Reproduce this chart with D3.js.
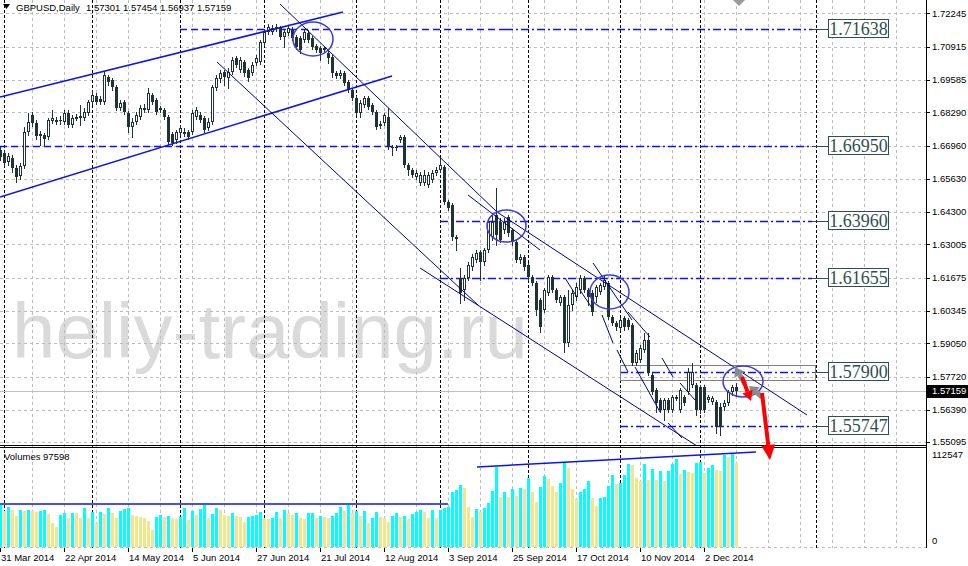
<!DOCTYPE html>
<html><head><meta charset="utf-8">
<script src="https://cdnjs.cloudflare.com/ajax/libs/d3/7.8.5/d3.min.js"></script>
<style>
body{margin:0;background:#fff;overflow:hidden}
text{font-family:"Liberation Sans",Arial,sans-serif}
</style></head>
<body><svg id="c" width="968" height="566"></svg>
<script>
// ---------------- DATA ----------------
const symbolTitle = "GBPUSD,Daily";
const titleValues = "1.57301 1.57454 1.56937 1.57159";
const opens = [1.6678,1.6666,1.6630,1.6646,1.6606,1.6574,1.6614,1.6750,1.6818,1.6786,
1.6734,1.6738,1.6730,1.6794,1.6794,1.6798,1.6790,1.6826,1.6778,1.6802,
1.6806,1.6806,1.6826,1.6870,1.6894,1.6882,1.6870,1.6970,1.6958,1.6930,
1.6846,1.6870,1.6826,1.6770,1.6790,1.6810,1.6838,1.6838,1.6898,1.6878,
1.6838,1.6838,1.6810,1.6742,1.6718,1.6746,1.6742,1.6750,1.6750,1.6810,
1.6818,1.6806,1.6766,1.6790,1.6926,1.6962,1.6990,1.6966,1.6990,1.7046,
1.6998,1.7030,1.6998,1.6986,1.7026,1.7030,1.7106,1.7150,1.7150,1.7162,
1.7166,1.7130,1.7146,1.7158,1.7130,1.7126,1.7118,1.7146,1.7126,1.7094,
1.7086,1.7078,1.7066,1.7050,1.6986,1.6974,1.6986,1.6950,1.6918,1.6886,
1.6826,1.6858,1.6886,1.6858,1.6830,1.6782,1.6786,1.6810,1.6690,1.6690,
1.6718,1.6730,1.6618,1.6598,1.6570,1.6546,1.6546,1.6538,1.6558,1.6586,
1.6598,1.6610,1.6470,1.6458,1.6326,1.6166,1.6118,1.6166,1.6210,1.6238,
1.6270,1.6230,1.6278,1.6330,1.6418,1.6390,1.6358,1.6410,1.6358,1.6310,
1.6238,1.6250,1.6218,1.6170,1.6146,1.6078,1.6038,1.6106,1.6170,1.6118,
1.6066,1.6090,1.5906,1.6058,1.6090,1.6118,1.6166,1.6118,1.6106,1.6090,
1.6110,1.6130,1.6146,1.6010,1.5986,1.5966,1.6006,1.5998,1.5978,1.5826,
1.5838,1.5878,1.5918,1.5778,1.5718,1.5678,1.5638,1.5678,1.5638,1.5686,
1.5638,1.5690,1.5710,1.5738,1.5738,1.5730,1.5730,1.5678,1.5670,1.5670,
1.5650,1.5650,1.5666,1.5710,1.57301];
const highs = [1.6690,1.6678,1.6666,1.6658,1.6618,1.6626,1.6770,1.6826,1.6830,1.6798,
1.6754,1.6746,1.6806,1.6838,1.6810,1.6814,1.6838,1.6838,1.6818,1.6822,
1.6858,1.6846,1.6878,1.6918,1.6906,1.6894,1.6994,1.6978,1.6966,1.6938,
1.6878,1.6878,1.6834,1.6806,1.6830,1.6858,1.6862,1.6926,1.6906,1.6886,
1.6854,1.6846,1.6818,1.6750,1.6758,1.6778,1.6766,1.6758,1.6838,1.6850,
1.6830,1.6814,1.6806,1.6938,1.6978,1.6998,1.6998,1.7006,1.7050,1.7054,
1.7050,1.7038,1.7006,1.7030,1.7058,1.7118,1.7162,1.7182,1.7178,1.7182,
1.7174,1.7158,1.7178,1.7170,1.7138,1.7134,1.7162,1.7158,1.7134,1.7102,
1.7094,1.7094,1.7078,1.7058,1.6994,1.6998,1.6994,1.6958,1.6926,1.6894,
1.6878,1.6894,1.6894,1.6866,1.6838,1.6794,1.6826,1.6846,1.6698,1.6698,
1.6738,1.6738,1.6626,1.6606,1.6598,1.6590,1.6598,1.6590,1.6598,1.6610,
1.6650,1.6618,1.6478,1.6466,1.6338,1.6206,1.6178,1.6230,1.6262,1.6278,
1.6278,1.6286,1.6398,1.6418,1.6526,1.6406,1.6406,1.6418,1.6366,1.6318,
1.6262,1.6258,1.6226,1.6178,1.6154,1.6086,1.6126,1.6178,1.6178,1.6126,
1.6098,1.6098,1.6118,1.6118,1.6146,1.6178,1.6174,1.6126,1.6118,1.6138,
1.6146,1.6174,1.6154,1.6018,1.5994,1.6006,1.6014,1.6006,1.5986,1.5878,
1.5898,1.5946,1.5946,1.5786,1.5726,1.5686,1.5686,1.5686,1.5698,1.5698,
1.5726,1.5698,1.5806,1.5826,1.5746,1.5738,1.5738,1.5698,1.5694,1.5678,
1.5666,1.5678,1.5718,1.5738,1.57454];
const lows = [1.6638,1.6614,1.6618,1.6590,1.6550,1.6562,1.6606,1.6738,1.6774,1.6722,
1.6698,1.6698,1.6722,1.6786,1.6782,1.6782,1.6782,1.6770,1.6770,1.6798,
1.6778,1.6798,1.6818,1.6862,1.6862,1.6862,1.6862,1.6938,1.6918,1.6838,
1.6838,1.6822,1.6750,1.6730,1.6782,1.6802,1.6830,1.6830,1.6862,1.6822,
1.6830,1.6802,1.6702,1.6698,1.6706,1.6738,1.6734,1.6722,1.6742,1.6802,
1.6790,1.6750,1.6758,1.6782,1.6918,1.6950,1.6938,1.6926,1.6982,1.7010,
1.6990,1.6974,1.6954,1.6978,1.7018,1.7022,1.7098,1.7142,1.7142,1.7154,
1.7122,1.7090,1.7138,1.7118,1.7082,1.7066,1.7110,1.7110,1.7082,1.7070,
1.7038,1.7070,1.7026,1.6970,1.6966,1.6966,1.6938,1.6910,1.6878,1.6818,
1.6810,1.6850,1.6842,1.6822,1.6762,1.6766,1.6778,1.6682,1.6658,1.6678,
1.6710,1.6610,1.6578,1.6570,1.6562,1.6538,1.6538,1.6530,1.6550,1.6578,
1.6590,1.6462,1.6438,1.6318,1.6278,1.6066,1.6078,1.6158,1.6198,1.6230,
1.6158,1.6218,1.6270,1.6318,1.6298,1.6310,1.6346,1.6334,1.6298,1.6230,
1.6226,1.6198,1.6158,1.6138,1.6018,1.5950,1.6030,1.6098,1.6110,1.6070,
1.6058,1.5870,1.5894,1.6038,1.6078,1.6106,1.6110,1.6058,1.6018,1.6070,
1.6102,1.6122,1.6002,1.5978,1.5958,1.5958,1.5958,1.5962,1.5818,1.5818,
1.5830,1.5870,1.5778,1.5702,1.5630,1.5630,1.5598,1.5630,1.5630,1.5678,
1.5630,1.5658,1.5702,1.5730,1.5618,1.5626,1.5630,1.5670,1.5662,1.5546,
1.5538,1.5638,1.5658,1.5698,1.56937];
const closes = [1.6650,1.6626,1.6654,1.6606,1.6570,1.6614,1.6750,1.6790,1.6786,1.6734,
1.6742,1.6722,1.6798,1.6806,1.6798,1.6794,1.6826,1.6778,1.6806,1.6810,
1.6814,1.6830,1.6870,1.6898,1.6870,1.6870,1.6978,1.6950,1.6930,1.6846,
1.6866,1.6830,1.6770,1.6790,1.6818,1.6846,1.6846,1.6906,1.6870,1.6830,
1.6846,1.6810,1.6710,1.6706,1.6750,1.6766,1.6750,1.6730,1.6826,1.6838,
1.6798,1.6758,1.6790,1.6930,1.6966,1.6986,1.6970,1.6990,1.7038,1.7018,
1.7038,1.6986,1.6966,1.7018,1.7046,1.7110,1.7150,1.7170,1.7166,1.7170,
1.7130,1.7150,1.7166,1.7126,1.7090,1.7078,1.7150,1.7118,1.7090,1.7078,
1.7066,1.7086,1.7046,1.6986,1.6974,1.6986,1.6946,1.6918,1.6886,1.6826,
1.6866,1.6886,1.6850,1.6830,1.6770,1.6774,1.6818,1.6690,1.6686,1.6686,
1.6730,1.6618,1.6598,1.6578,1.6586,1.6578,1.6578,1.6578,1.6586,1.6598,
1.6618,1.6470,1.6446,1.6330,1.6330,1.6106,1.6166,1.6218,1.6250,1.6266,
1.6230,1.6278,1.6390,1.6390,1.6338,1.6318,1.6390,1.6346,1.6310,1.6238,
1.6250,1.6210,1.6170,1.6146,1.6038,1.5970,1.6118,1.6170,1.6118,1.6078,
1.6090,1.5906,1.6058,1.6106,1.6130,1.6166,1.6118,1.6090,1.6030,1.6130,
1.6138,1.6158,1.6010,1.5986,1.5970,1.5998,1.5970,1.5970,1.5826,1.5866,
1.5886,1.5918,1.5786,1.5710,1.5666,1.5638,1.5678,1.5638,1.5690,1.5690,
1.5718,1.5666,1.5790,1.5790,1.5638,1.5638,1.5638,1.5690,1.5686,1.5570,
1.5570,1.5666,1.5710,1.5730,1.57159];
const volumes = [48720,42150,46790,42920,35960,42920,42150,42920,41760,40990,
42150,42920,38280,27450,22810,37120,39830,34030,39830,39050,
34030,45240,33250,40990,28230,40990,38280,45240,39830,34030,
41760,44080,45240,37120,35960,35190,33250,30550,19720,34410,
37120,35190,35960,33250,32090,35190,45240,31320,41760,37120,
44080,48720,33250,38280,45240,42920,37120,35960,39050,35960,
35190,29390,35190,35960,37120,40990,33250,32480,33250,40990,
34030,42920,39050,37120,39830,33250,32480,39050,39830,34030,
35960,35190,33250,35960,39830,46790,41760,48720,39830,42150,
35960,42150,28230,33250,40990,35190,34030,29390,35960,39830,
34410,35960,32090,38280,40990,42920,40990,33250,42920,33250,
42920,44850,46790,64190,66120,71920,68050,46790,35190,44080,
40990,45240,51040,64960,92800,58000,63800,58000,67280,59160,
68440,67280,80040,63800,52200,69600,82360,78880,70760,63800,
74240,97440,91640,67280,55680,63800,67280,76560,56840,47560,
56840,58000,70760,83520,73080,74240,83520,96280,95120,80040,
76560,96280,77720,90480,77720,88160,76560,88160,96280,102080,
84680,89320,87000,85840,97440,98600,85840,91640,95120,89320,
88160,106720,104400,107880,97598];
const volumeMax = 112547;
const priceTicks = [1.72245,1.70915,1.69585,1.68290,1.66960,1.65630,1.64300,1.63005,1.61675,1.60345,1.59050,1.57720,1.56390,1.55095];
const timeLabels = ["31 Mar 2014","22 Apr 2014","14 May 2014","5 Jun 2014","27 Jun 2014","21 Jul 2014","12 Aug 2014","3 Sep 2014","25 Sep 2014","17 Oct 2014","10 Nov 2014","2 Dec 2014"];
const timeLabelIdx = [0,16,32,48,64,80,96,112,128,144,160,176];
const periodSepIdx = [1,23,45,66,89,110,132,155,175,204];
const levelValues = [1.71638,1.66950,1.63960,1.61655,1.57900,1.55747];
const levelStartIdx = [126.25,155,110,110,155,155];
const levelDashedFromIdx = [45,0,null,null,null,null];
const levelEndIdx = 203;
const zoneRect = {i1:155, i2:203.75, p1:1.5818, p2:1.5758};
const channelLines = [[[0,1.6890],[85.75,1.7230]],[[0,1.6490],[98,1.6974]]];
const thinLines = [
 [[70,1.7262],[124.25,1.6430]],
 [[124.25,1.6430],[201.75,1.5618]],
 [[54.25,1.7030],[119.5,1.6058]],
 [[105,1.6206],[174.25,1.5494]],
 [[117,1.6498],[135,1.6278]],
 [[141.25,1.6166],[144.25,1.6090]],
 [[145,1.6118],[148,1.6046]],
 [[148.25,1.6226],[158,1.5998]],
 [[150.5,1.6018],[153.25,1.5906]],
 [[154.25,1.5878],[157,1.5790]],
 [[157,1.6030],[162.5,1.5930]],
 [[158.75,1.5810],[165,1.5630]],
 [[165.5,1.5846],[168.25,1.5770]],
 [[170,1.5746],[173.75,1.5678]],
 [[167,1.5586],[170.5,1.5526]]
];
const ellipses = [[73.25,1.7190,83.25,1.7054],[121.75,1.6438,131.5,1.6310],[147.5,1.6178,157.25,1.6042],[180.75,1.5814,190.75,1.5690]];
const arrowsGray = [[[186.25,1.5742],[183.75,1.5810]],[[190.5,1.5690],[187.25,1.5734]]];
const arrowsRed = [[[185.5,1.5770],[187.75,1.5674]],[[190.5,1.5706],[192.5,1.5438]]];
const volLines = [[[0,49880],[112,49880]],[[119.25,92800],[189,110200]]];

// ---------------- DRAW ----------------
const svg = d3.select("#c");
const x = d3.scaleLinear().domain([0,231.5]).range([0,926]);
const y = d3.scaleLinear().domain([1.7278,1.5498]).range([0,445]);
const yv = d3.scaleLinear().domain([0,volumeMax]).range([547,450]);
const px = v => Math.round(x(v))+0.5;
const py = v => Math.round(y(v))+0.5;
const N = closes.length;

svg.append("rect").attr("width",968).attr("height",566).attr("fill","#fff");
const defs = svg.append("defs");
defs.append("clipPath").attr("id","pclip").append("rect").attr("x",0).attr("y",0).attr("width",926).attr("height",445);
defs.append("clipPath").attr("id","vclip").append("rect").attr("x",0).attr("y",449).attr("width",926).attr("height",99);

// watermark
svg.append("text").attr("x",12).attr("y",358).text("heliy-trading.ru")
  .style("font-size","78px").attr("fill","#dadada");

// grid
const grid = svg.append("g").attr("stroke","#bcbcbc").attr("stroke-dasharray","3,3");
grid.selectAll("line.h").data(priceTicks).join("line").attr("class","h")
  .attr("x1",0).attr("x2",926).attr("y1",d=>py(d)).attr("y2",d=>py(d));
grid.append("line").attr("x1",0).attr("x2",926).attr("y1",Math.round(yv(0))+0.5).attr("y2",Math.round(yv(0))+0.5);
grid.selectAll("line.v").data(d3.range(8,232,8)).join("line").attr("class","v")
  .attr("x1",d=>px(d)).attr("x2",d=>px(d)).attr("y1",0).attr("y2",548);

// period separators
svg.append("g").attr("stroke","#000").attr("stroke-dasharray","3,2")
  .selectAll("line").data(periodSepIdx).join("line")
  .attr("x1",d=>px(d)).attr("x2",d=>px(d)).attr("y1",0).attr("y2",548);

// bid line
svg.append("line").attr("x1",0).attr("x2",926).attr("y1",py(closes[N-1])).attr("y2",py(closes[N-1]))
  .attr("stroke","#c0c0c0");

// levels
const lv = svg.append("g");
levelValues.forEach((v,k)=>{
  const yy = py(v);
  if(levelDashedFromIdx[k]!==null){
    lv.append("line").attr("x1",x(levelDashedFromIdx[k])).attr("x2",x(levelStartIdx[k])).attr("y1",yy).attr("y2",yy)
      .attr("stroke","#1010ff").attr("stroke-width",1.5).attr("stroke-dasharray","7,4");
  }
  lv.append("line").attr("x1",x(levelStartIdx[k])).attr("x2",x(levelEndIdx)).attr("y1",yy).attr("y2",yy)
    .attr("stroke","#1010ff").attr("stroke-width",1.5).attr("stroke-dasharray","8,3,2,3");
  lv.append("line").attr("x1",x(levelEndIdx)).attr("x2",828).attr("y1",yy).attr("y2",yy).attr("stroke","#2f4f4f");
  lv.append("rect").attr("x",828.5).attr("y",Math.round(y(v))-9.5).attr("width",60).attr("height",18)
    .attr("fill","#fff").attr("stroke","#2f4f4f");
  lv.append("text").attr("x",858.5).attr("y",Math.round(y(v))+6).attr("text-anchor","middle")
    .style("font-family","'Liberation Serif','Times New Roman',serif").style("font-size","18px")
    .attr("fill","#2f4f4f").text(v.toFixed(5));
});
lv.append("rect").attr("x",Math.round(x(zoneRect.i1))+0.5).attr("y",py(zoneRect.p1))
  .attr("width",Math.round(x(zoneRect.i2)-x(zoneRect.i1))).attr("height",Math.round(y(zoneRect.p2)-y(zoneRect.p1)))
  .attr("fill","none").attr("stroke","#808080");

// candles
const cc = "#1f3333";
const cg = svg.append("g").attr("clip-path","url(#pclip)");
const bars = closes.map((c,i)=>({i,o:opens[i],h:highs[i],l:lows[i],c}));
cg.selectAll("line.w").data(bars).join("line").attr("class","w")
  .attr("x1",d=>px(d.i)).attr("x2",d=>px(d.i))
  .attr("y1",d=>Math.round(y(d.h))).attr("y2",d=>Math.round(y(d.l))+1).attr("stroke",cc);
bars.forEach(d=>{
  const top = Math.round(y(Math.max(d.o,d.c))), bot = Math.max(Math.round(y(Math.min(d.o,d.c))), top+1);
  const xl = Math.round(x(d.i))-1;
  if(d.c>d.o){
    cg.append("rect").attr("x",xl+0.5).attr("y",top+0.5).attr("width",2).attr("height",Math.max(bot-top-1,1))
      .attr("fill","#fff").attr("stroke",cc);
  } else {
    cg.append("rect").attr("x",xl).attr("y",top).attr("width",3).attr("height",Math.max(bot-top,1)).attr("fill",cc);
  }
});

// trend lines
const tl = svg.append("g").attr("clip-path","url(#pclip)").attr("fill","none");
tl.selectAll("line.ch").data(channelLines).join("line").attr("class","ch")
  .attr("x1",d=>x(d[0][0])).attr("y1",d=>y(d[0][1])).attr("x2",d=>x(d[1][0])).attr("y2",d=>y(d[1][1]))
  .attr("stroke","#0a14f0").attr("stroke-width",1.6);
tl.selectAll("line.th").data(thinLines).join("line").attr("class","th")
  .attr("x1",d=>x(d[0][0])).attr("y1",d=>y(d[0][1])).attr("x2",d=>x(d[1][0])).attr("y2",d=>y(d[1][1]))
  .attr("stroke","#00008c").attr("stroke-width",1);
tl.selectAll("ellipse").data(ellipses).join("ellipse")
  .attr("cx",d=>(x(d[0])+x(d[2]))/2).attr("cy",d=>(y(d[1])+y(d[3]))/2)
  .attr("rx",d=>(x(d[2])-x(d[0]))/2).attr("ry",d=>(y(d[3])-y(d[1]))/2)
  .attr("stroke","#3a3ae0").attr("stroke-width",1.5);

// separator between panes
svg.append("line").attr("x1",0).attr("x2",926).attr("y1",445.5).attr("y2",445.5).attr("stroke","#000");
svg.append("line").attr("x1",0).attr("x2",926).attr("y1",447.5).attr("y2",447.5).attr("stroke","#000");

// volumes
const vg = svg.append("g").attr("clip-path","url(#vclip)");
vg.selectAll("rect").data(volumes).join("rect")
  .attr("x",(d,i)=>Math.round(x(i))-1).attr("width",3)
  .attr("y",d=>Math.round(yv(d))).attr("height",d=>Math.round(yv(0))-Math.round(yv(d)))
  .attr("fill",(d,i)=> i>0 && d<=volumes[i-1] ? "#f0e68c" : "#00ffff");
vg.selectAll("line").data(volLines).join("line")
  .attr("x1",d=>x(d[0][0])).attr("y1",d=>yv(d[0][1])).attr("x2",d=>x(d[1][0])).attr("y2",d=>yv(d[1][1]))
  .attr("stroke","#0a14f0").attr("stroke-width",1.5);

// arrows
function arrow(p1,p2,color,w,hl,hw){
  const x1=x(p1[0]),y1=y(p1[1]),x2=x(p2[0]),y2=y(p2[1]);
  const dx=x2-x1,dy=y2-y1,L=Math.hypot(dx,dy),ux=dx/L,uy=dy/L;
  const bx=x2-ux*hl,by=y2-uy*hl;
  svg.append("line").attr("x1",x1).attr("y1",y1).attr("x2",bx).attr("y2",by).attr("stroke",color).attr("stroke-width",w);
  svg.append("polygon").attr("points",[[x2,y2],[bx-uy*hw/2,by+ux*hw/2],[bx+uy*hw/2,by-ux*hw/2]].map(p=>p.join(",")).join(" "))
    .attr("fill",color);
}
arrowsGray.forEach(a=>arrow(a[0],a[1],"#8a8a8a",5,9,12));
arrowsRed.forEach((a,k)=>arrow(a[0],a[1],"#ff0000",4,k?15:10,k?14:11));
// partial gray marker at top
svg.append("polygon").attr("points",[[x(183.25),0],[x(186.25),0],[x(184.75),6]].map(p=>p.join(",")).join(" ")).attr("fill","#9a9a9a");

// right axis
svg.append("line").attr("x1",926.5).attr("x2",926.5).attr("y1",0).attr("y2",548).attr("stroke","#000");
const ax = svg.append("g").style("font-size","9.5px");
ax.selectAll("line").data(priceTicks).join("line").attr("x1",926).attr("x2",930)
  .attr("y1",d=>py(d)).attr("y2",d=>py(d)).attr("stroke","#000");
ax.selectAll("text").data(priceTicks).join("text").attr("x",932).attr("y",d=>y(d)).attr("dy","0.35em")
  .attr("fill","#000").text(d=>d.toFixed(5));
const lastY = Math.round(y(closes[N-1]));
svg.append("rect").attr("x",927).attr("y",lastY-6).attr("width",41).attr("height",13).attr("fill","#000");
svg.append("text").attr("x",932).attr("y",lastY).attr("dy","0.35em").style("font-size","9.5px")
  .attr("fill","#fff").text(closes[N-1].toFixed(5));
svg.append("text").attr("x",932).attr("y",yv(volumeMax)+5).attr("dy","0.35em").style("font-size","9.5px").text(volumeMax);
svg.append("text").attr("x",932).attr("y",yv(0)-6).attr("dy","0.35em").style("font-size","9.5px").text("0");

// time axis
const ta = svg.append("g").style("font-size","9.5px");
ta.selectAll("line").data(timeLabelIdx).join("line").attr("x1",d=>px(d)).attr("x2",d=>px(d))
  .attr("y1",548).attr("y2",552).attr("stroke","#000");
ta.selectAll("text").data(timeLabels).join("text").attr("x",(d,k)=>x(timeLabelIdx[k])+1).attr("y",561).text(d=>d);

// titles
svg.append("polygon").attr("points","3,4 10,4 6.5,9").attr("fill","#000");
svg.append("text").attr("x",16).attr("y",11).style("font-size","9.5px").text(symbolTitle);
svg.append("text").attr("x",86).attr("y",11).style("font-size","9.5px").text(titleValues);
svg.append("text").attr("x",4).attr("y",460).style("font-size","9.5px").text("Volumes " + volumes[N-1]);
</script></body></html>
